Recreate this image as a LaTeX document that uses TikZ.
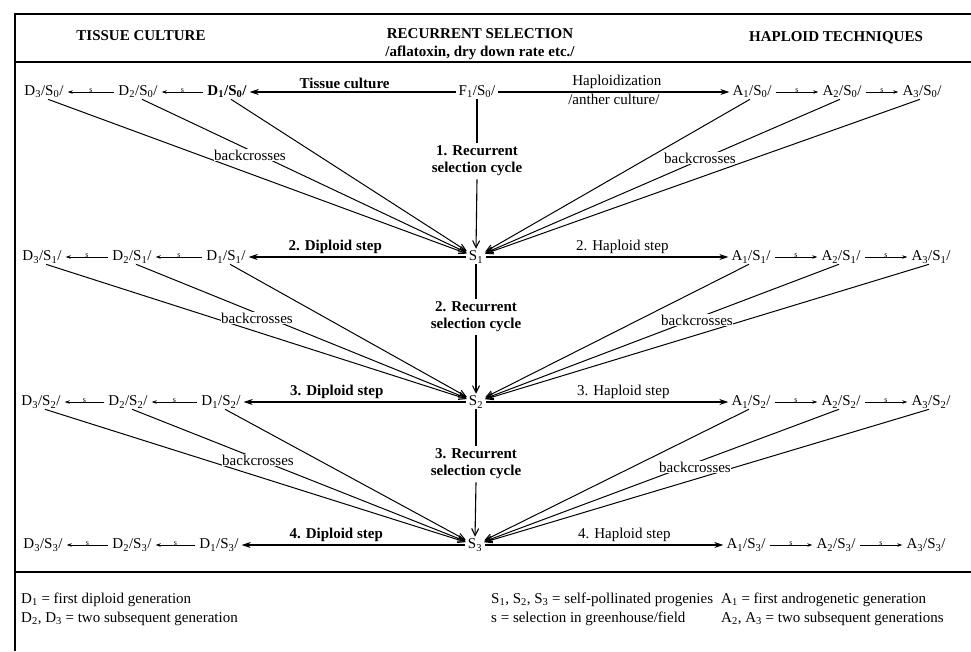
\documentclass[tikz,border=0pt]{standalone}
\usepackage{fontspec}
\setmainfont{Liberation Serif}
\usetikzlibrary{arrows.meta}
\newcommand{\myg}[3]{#1\textsubscript{#2}/S\textsubscript{#3}/}
\begin{document}
\begin{tikzpicture}[x=1pt,y=-1pt,
 every node/.style={inner sep=1pt},
 txt/.style={font=\fontsize{15}{17}\selectfont},
 btxt/.style={font=\fontsize{15}{17}\selectfont\bfseries},
 rsc/.style={btxt, align=center, inner sep=3pt},
 frame/.style={line width=1.6pt},
 mainarr/.style={line width=1.1pt,-{Stealth[length=9pt,width=6pt]}, shorten >=2pt, shorten <=2pt},
 vline/.style={line width=1.1pt},
 varr/.style={line width=1.1pt,-{Straight Barb[length=7pt,width=7pt]}, shorten >=1pt},
 bcarr/.style={line width=1pt,-{Straight Barb[length=7pt,width=6pt]}, shorten >=1pt},
 sarr/.style={line width=0.7pt,-{Stealth[length=5pt,width=3.5pt]}, shorten >=3pt, shorten <=3pt},
 smark/.style={font=\fontsize{8}{8}\selectfont, above=-2pt, pos=0.5},
 bclab/.style={txt, fill=white, inner sep=0.5pt},
]
\useasboundingbox (0,0) rectangle (971,651);
\fill[white] (0,0) rectangle (971,651);
% frame
\draw[frame] (15,651) -- (15,14) -- (971,14);
\draw[frame] (15,62) -- (971,62);
\draw[frame] (15,572) -- (971,572);
% headers
\node[btxt] (h1) at (141,36) {TISSUE CULTURE};
\node[btxt] (h2) at (480,34) {RECURRENT SELECTION};
\node[btxt] (h2b) at (480,53) {/aflatoxin, dry down rate etc./};
\node[btxt] (h3) at (836,38) {HAPLOID TECHNIQUES};
% row 0
\node[txt] (f1) at (477,92) {\myg{F}{1}{0}};
\node[btxt] (d10) at (227,92) {\myg{D}{1}{0}};
\node[txt] (d20) at (138,92) {\myg{D}{2}{0}};
\node[txt] (d30) at (44,92) {\myg{D}{3}{0}};
\node[txt] (a10) at (752,92) {\myg{A}{1}{0}};
\node[txt] (a20) at (842,92) {\myg{A}{2}{0}};
\node[txt] (a30) at (922,92) {\myg{A}{3}{0}};
% row 1
\node[txt] (s1) at (476,257) {S\textsubscript{1}};
\node[txt] (d11) at (226,257) {\myg{D}{1}{1}};
\node[txt] (d21) at (132,257) {\myg{D}{2}{1}};
\node[txt] (d31) at (42,257) {\myg{D}{3}{1}};
\node[txt] (a11) at (751,257) {\myg{A}{1}{1}};
\node[txt] (a21) at (841,257) {\myg{A}{2}{1}};
\node[txt] (a31) at (931,257) {\myg{A}{3}{1}};
% row 2
\node[txt] (s2) at (476,402) {S\textsubscript{2}};
\node[txt] (d12) at (221,402) {\myg{D}{1}{2}};
\node[txt] (d22) at (128,402) {\myg{D}{2}{2}};
\node[txt] (d32) at (41,402) {\myg{D}{3}{2}};
\node[txt] (a12) at (751,402) {\myg{A}{1}{2}};
\node[txt] (a22) at (841,402) {\myg{A}{2}{2}};
\node[txt] (a32) at (931,402) {\myg{A}{3}{2}};
% row 3
\node[txt] (s3) at (475,545) {S\textsubscript{3}};
\node[txt] (d13) at (219,545) {\myg{D}{1}{3}};
\node[txt] (d23) at (132,545) {\myg{D}{2}{3}};
\node[txt] (d33) at (43,545) {\myg{D}{3}{3}};
\node[txt] (a13) at (746,545) {\myg{A}{1}{3}};
\node[txt] (a23) at (836,545) {\myg{A}{2}{3}};
\node[txt] (a33) at (926,545) {\myg{A}{3}{3}};
% recurrent selection labels
\node[rsc] (r1) at (477,161) {1. Recurrent\\selection cycle};
\node[rsc] (r2) at (476,317) {2. Recurrent\\selection cycle};
\node[rsc] (r3) at (476,464) {3. Recurrent\\selection cycle};
\draw[vline] (f1.south) -- (r1.north);
\draw[varr] (r1.south) -- (s1.north);
\draw[vline] (s1.south) -- (r2.north);
\draw[varr] (r2.south) -- (s2.north);
\draw[vline] (s2.south) -- (r3.north);
\draw[varr] (r3.south) -- (s3.north);
% main horizontal arrows
\draw[mainarr] (f1.west) -- node[btxt, above=2pt, xshift=-8pt] {Tissue culture} (d10.east);
\draw[mainarr] (f1.east) -- node[txt, above=2pt, xshift=3pt] {Haploidization} node[txt, below=1pt] {/anther culture/} (a10.west);
\draw[mainarr] (s1.west) -- node[btxt, above=2pt, xshift=-22pt] {2. Diploid step} (d11.east);
\draw[mainarr] (s1.east) -- node[txt, above=2pt, xshift=15pt] {2. Haploid step} (a11.west);
\draw[mainarr] (s2.west) -- node[btxt, above=2pt, xshift=-18pt] {3. Diploid step} (d12.east);
\draw[mainarr] (s2.east) -- node[txt, above=2pt, xshift=16pt] {3. Haploid step} (a12.west);
\draw[mainarr] (s3.west) -- node[btxt, above=2pt, xshift=-17pt] {4. Diploid step} (d13.east);
\draw[mainarr] (s3.east) -- node[txt, above=2pt, xshift=20pt] {4. Haploid step} (a13.west);
% small step arrows
\foreach \r in {0,1,2,3}{
 \draw[sarr] (d1\r.west) -- node[smark]{s} (d2\r.east);
 \draw[sarr] (d2\r.west) -- node[smark]{s} (d3\r.east);
 \draw[sarr] (a1\r.east) -- node[smark]{s} (a2\r.west);
 \draw[sarr] (a2\r.east) -- node[smark]{s} (a3\r.west);
}
% backcrosses
\foreach \r/\n in {0/1,1/2,2/3}{
 \draw[bcarr] ([xshift=4pt]d3\r.south) -- (s\n);
 \draw[bcarr] ([xshift=4pt]d2\r.south) -- (s\n);
 \draw[bcarr] ([xshift=4pt]d1\r.south) -- (s\n);
 \draw[bcarr] ([xshift=-2pt]a1\r.south) -- (s\n);
 \draw[bcarr] ([xshift=-2pt]a2\r.south) -- (s\n);
 \draw[bcarr] ([xshift=-2pt]a3\r.south) -- (s\n);
}
\node[bclab] (bl1) at (250,155) {backcrosses};
\node[bclab] (br1) at (700,158) {backcrosses};
\node[bclab] (bl2) at (257,318) {backcrosses};
\node[bclab] (br2) at (697,320) {backcrosses};
\node[bclab] (bl3) at (258,460) {backcrosses};
\node[bclab] (br3) at (695,467) {backcrosses};
% legend
\node[txt, anchor=west] (l1) at (20,600) {D\textsubscript{1} = first diploid generation};
\node[txt, anchor=west] (l2) at (20,619) {D\textsubscript{2}, D\textsubscript{3} = two subsequent generation};
\node[txt, anchor=west] (l3) at (490,600) {S\textsubscript{1}, S\textsubscript{2}, S\textsubscript{3} = self-pollinated progenies};
\node[txt, anchor=west] (l4) at (490,619) {s = selection in greenhouse/field};
\node[txt, anchor=west] (l5) at (720,600) {A\textsubscript{1} = first androgenetic generation};
\node[txt, anchor=west] (l6) at (720,619) {A\textsubscript{2}, A\textsubscript{3} = two subsequent generations};
\end{tikzpicture}
\end{document}
